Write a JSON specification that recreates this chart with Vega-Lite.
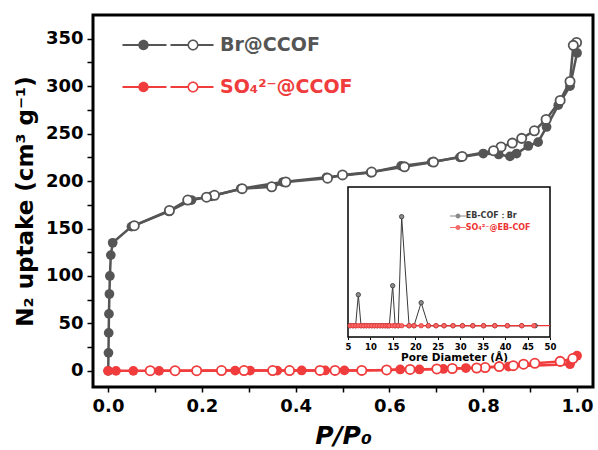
{
  "$schema": "https://vega.github.io/schema/vega-lite/v6.json",
  "width": 500,
  "height": 372,
  "autosize": "none",
  "padding": {"left": 93, "top": 15, "right": 5, "bottom": 63},
  "background": "white",
  "config": {
    "font": "DejaVu Sans",
    "view": {"stroke": "black", "strokeWidth": 3},
    "axis": {"grid": false, "domain": false, "tickColor": "black", "labelColor": "black", "titleColor": "black", "labelFont": "DejaVu Sans", "labelFontWeight": "bold", "titleFont": "DejaVu Sans", "titleFontWeight": "bold"}
  },
  "datasets": {
    "iso": [
      {"s": "Br@CCOF", "b": "ads", "p": 0.0005, "v": 0},
      {"s": "Br@CCOF", "b": "ads", "p": 0.001, "v": 19},
      {"s": "Br@CCOF", "b": "ads", "p": 0.0015, "v": 40},
      {"s": "Br@CCOF", "b": "ads", "p": 0.002, "v": 60},
      {"s": "Br@CCOF", "b": "ads", "p": 0.003, "v": 81},
      {"s": "Br@CCOF", "b": "ads", "p": 0.004, "v": 100},
      {"s": "Br@CCOF", "b": "ads", "p": 0.006, "v": 122},
      {"s": "Br@CCOF", "b": "ads", "p": 0.010, "v": 135},
      {"s": "Br@CCOF", "b": "ads", "p": 0.05, "v": 152},
      {"s": "Br@CCOF", "b": "ads", "p": 0.13, "v": 168},
      {"s": "Br@CCOF", "b": "ads", "p": 0.178, "v": 180},
      {"s": "Br@CCOF", "b": "ads", "p": 0.22, "v": 184},
      {"s": "Br@CCOF", "b": "ads", "p": 0.283, "v": 192},
      {"s": "Br@CCOF", "b": "ads", "p": 0.373, "v": 199},
      {"s": "Br@CCOF", "b": "ads", "p": 0.466, "v": 204},
      {"s": "Br@CCOF", "b": "ads", "p": 0.56, "v": 209},
      {"s": "Br@CCOF", "b": "ads", "p": 0.625, "v": 216},
      {"s": "Br@CCOF", "b": "ads", "p": 0.69, "v": 220},
      {"s": "Br@CCOF", "b": "ads", "p": 0.75, "v": 225},
      {"s": "Br@CCOF", "b": "ads", "p": 0.80, "v": 229},
      {"s": "Br@CCOF", "b": "ads", "p": 0.833, "v": 228},
      {"s": "Br@CCOF", "b": "ads", "p": 0.857, "v": 226},
      {"s": "Br@CCOF", "b": "ads", "p": 0.871, "v": 229},
      {"s": "Br@CCOF", "b": "ads", "p": 0.896, "v": 237},
      {"s": "Br@CCOF", "b": "ads", "p": 0.917, "v": 241},
      {"s": "Br@CCOF", "b": "ads", "p": 0.935, "v": 257},
      {"s": "Br@CCOF", "b": "ads", "p": 0.96, "v": 280},
      {"s": "Br@CCOF", "b": "ads", "p": 0.985, "v": 300},
      {"s": "Br@CCOF", "b": "ads", "p": 1.0, "v": 335},
      {"s": "Br@CCOF", "b": "des", "p": 0.999, "v": 346},
      {"s": "Br@CCOF", "b": "des", "p": 0.992, "v": 343},
      {"s": "Br@CCOF", "b": "des", "p": 0.985, "v": 305},
      {"s": "Br@CCOF", "b": "des", "p": 0.964, "v": 285},
      {"s": "Br@CCOF", "b": "des", "p": 0.934, "v": 265},
      {"s": "Br@CCOF", "b": "des", "p": 0.909, "v": 253},
      {"s": "Br@CCOF", "b": "des", "p": 0.882, "v": 245},
      {"s": "Br@CCOF", "b": "des", "p": 0.862, "v": 240},
      {"s": "Br@CCOF", "b": "des", "p": 0.838, "v": 236},
      {"s": "Br@CCOF", "b": "des", "p": 0.822, "v": 232},
      {"s": "Br@CCOF", "b": "des", "p": 0.755, "v": 226},
      {"s": "Br@CCOF", "b": "des", "p": 0.694, "v": 220},
      {"s": "Br@CCOF", "b": "des", "p": 0.632, "v": 215},
      {"s": "Br@CCOF", "b": "des", "p": 0.562, "v": 209.5},
      {"s": "Br@CCOF", "b": "des", "p": 0.50, "v": 206.5},
      {"s": "Br@CCOF", "b": "des", "p": 0.468, "v": 203},
      {"s": "Br@CCOF", "b": "des", "p": 0.379, "v": 199},
      {"s": "Br@CCOF", "b": "des", "p": 0.349, "v": 194},
      {"s": "Br@CCOF", "b": "des", "p": 0.286, "v": 192},
      {"s": "Br@CCOF", "b": "des", "p": 0.227, "v": 185},
      {"s": "Br@CCOF", "b": "des", "p": 0.21, "v": 183},
      {"s": "Br@CCOF", "b": "des", "p": 0.17, "v": 180},
      {"s": "Br@CCOF", "b": "des", "p": 0.131, "v": 169},
      {"s": "Br@CCOF", "b": "des", "p": 0.056, "v": 153},
      {"s": "SO₄²⁻@CCOF", "b": "ads", "p": 0.0, "v": 0},
      {"s": "SO₄²⁻@CCOF", "b": "ads", "p": 0.017, "v": 0},
      {"s": "SO₄²⁻@CCOF", "b": "ads", "p": 0.054, "v": 0},
      {"s": "SO₄²⁻@CCOF", "b": "ads", "p": 0.109, "v": 0},
      {"s": "SO₄²⁻@CCOF", "b": "ads", "p": 0.271, "v": 0.3},
      {"s": "SO₄²⁻@CCOF", "b": "ads", "p": 0.303, "v": 0.3},
      {"s": "SO₄²⁻@CCOF", "b": "ads", "p": 0.361, "v": 0.3},
      {"s": "SO₄²⁻@CCOF", "b": "ads", "p": 0.413, "v": 0.4},
      {"s": "SO₄²⁻@CCOF", "b": "ads", "p": 0.463, "v": 0.4},
      {"s": "SO₄²⁻@CCOF", "b": "ads", "p": 0.504, "v": 0.5},
      {"s": "SO₄²⁻@CCOF", "b": "ads", "p": 0.594, "v": 1},
      {"s": "SO₄²⁻@CCOF", "b": "ads", "p": 0.623, "v": 1.5},
      {"s": "SO₄²⁻@CCOF", "b": "ads", "p": 0.664, "v": 1.5},
      {"s": "SO₄²⁻@CCOF", "b": "ads", "p": 0.715, "v": 2},
      {"s": "SO₄²⁻@CCOF", "b": "ads", "p": 0.763, "v": 3},
      {"s": "SO₄²⁻@CCOF", "b": "ads", "p": 0.854, "v": 4.5},
      {"s": "SO₄²⁻@CCOF", "b": "ads", "p": 0.985, "v": 7},
      {"s": "SO₄²⁻@CCOF", "b": "ads", "p": 1.0, "v": 16},
      {"s": "SO₄²⁻@CCOF", "b": "des", "p": 0.991, "v": 13},
      {"s": "SO₄²⁻@CCOF", "b": "des", "p": 0.964, "v": 10},
      {"s": "SO₄²⁻@CCOF", "b": "des", "p": 0.91, "v": 8},
      {"s": "SO₄²⁻@CCOF", "b": "des", "p": 0.886, "v": 7},
      {"s": "SO₄²⁻@CCOF", "b": "des", "p": 0.864, "v": 5.5},
      {"s": "SO₄²⁻@CCOF", "b": "des", "p": 0.834, "v": 4.5},
      {"s": "SO₄²⁻@CCOF", "b": "des", "p": 0.804, "v": 3.5},
      {"s": "SO₄²⁻@CCOF", "b": "des", "p": 0.786, "v": 3},
      {"s": "SO₄²⁻@CCOF", "b": "des", "p": 0.734, "v": 2.5},
      {"s": "SO₄²⁻@CCOF", "b": "des", "p": 0.701, "v": 2},
      {"s": "SO₄²⁻@CCOF", "b": "des", "p": 0.644, "v": 1.5},
      {"s": "SO₄²⁻@CCOF", "b": "des", "p": 0.594, "v": 1},
      {"s": "SO₄²⁻@CCOF", "b": "des", "p": 0.541, "v": 0.5},
      {"s": "SO₄²⁻@CCOF", "b": "des", "p": 0.484, "v": 0.5},
      {"s": "SO₄²⁻@CCOF", "b": "des", "p": 0.452, "v": 0.5},
      {"s": "SO₄²⁻@CCOF", "b": "des", "p": 0.387, "v": 0.3},
      {"s": "SO₄²⁻@CCOF", "b": "des", "p": 0.351, "v": 0.3},
      {"s": "SO₄²⁻@CCOF", "b": "des", "p": 0.29, "v": 0.3},
      {"s": "SO₄²⁻@CCOF", "b": "des", "p": 0.242, "v": 0.3},
      {"s": "SO₄²⁻@CCOF", "b": "des", "p": 0.189, "v": 0.2},
      {"s": "SO₄²⁻@CCOF", "b": "des", "p": 0.143, "v": 0.2},
      {"s": "SO₄²⁻@CCOF", "b": "des", "p": 0.09, "v": 0.2}
    ],
    "psd": [
      {"s": "EB-COF：Br", "d": 5.5, "f": 0}, {"s": "EB-COF：Br", "d": 6.1, "f": 0}, {"s": "EB-COF：Br", "d": 6.7, "f": 0},
      {"s": "EB-COF：Br", "d": 7.3, "f": 0.31}, {"s": "EB-COF：Br", "d": 7.9, "f": 0}, {"s": "EB-COF：Br", "d": 8.5, "f": 0},
      {"s": "EB-COF：Br", "d": 9.1, "f": 0}, {"s": "EB-COF：Br", "d": 9.7, "f": 0}, {"s": "EB-COF：Br", "d": 10.3, "f": 0},
      {"s": "EB-COF：Br", "d": 10.9, "f": 0}, {"s": "EB-COF：Br", "d": 11.5, "f": 0}, {"s": "EB-COF：Br", "d": 12.1, "f": 0},
      {"s": "EB-COF：Br", "d": 12.7, "f": 0}, {"s": "EB-COF：Br", "d": 13.3, "f": 0}, {"s": "EB-COF：Br", "d": 13.8, "f": 0},
      {"s": "EB-COF：Br", "d": 14.2, "f": 0}, {"s": "EB-COF：Br", "d": 14.95, "f": 0.40}, {"s": "EB-COF：Br", "d": 15.5, "f": 0},
      {"s": "EB-COF：Br", "d": 16.2, "f": 0}, {"s": "EB-COF：Br", "d": 16.95, "f": 1.09}, {"s": "EB-COF：Br", "d": 18.6, "f": 0},
      {"s": "EB-COF：Br", "d": 19.7, "f": 0}, {"s": "EB-COF：Br", "d": 21.3, "f": 0.23}, {"s": "EB-COF：Br", "d": 22.9, "f": 0},
      {"s": "EB-COF：Br", "d": 24.6, "f": 0}, {"s": "EB-COF：Br", "d": 26.4, "f": 0}, {"s": "EB-COF：Br", "d": 28.4, "f": 0},
      {"s": "EB-COF：Br", "d": 30.5, "f": 0}, {"s": "EB-COF：Br", "d": 32.8, "f": 0}, {"s": "EB-COF：Br", "d": 35.2, "f": 0},
      {"s": "EB-COF：Br", "d": 37.7, "f": 0}, {"s": "EB-COF：Br", "d": 40.5, "f": 0}, {"s": "EB-COF：Br", "d": 43.7, "f": 0},
      {"s": "EB-COF：Br", "d": 46.7, "f": 0},
      {"s": "SO₄²⁻@EB-COF", "d": 5.5, "f": 0}, {"s": "SO₄²⁻@EB-COF", "d": 6.1, "f": 0}, {"s": "SO₄²⁻@EB-COF", "d": 6.7, "f": 0},
      {"s": "SO₄²⁻@EB-COF", "d": 7.3, "f": 0}, {"s": "SO₄²⁻@EB-COF", "d": 7.9, "f": 0}, {"s": "SO₄²⁻@EB-COF", "d": 8.5, "f": 0},
      {"s": "SO₄²⁻@EB-COF", "d": 9.1, "f": 0}, {"s": "SO₄²⁻@EB-COF", "d": 9.7, "f": 0}, {"s": "SO₄²⁻@EB-COF", "d": 10.3, "f": 0},
      {"s": "SO₄²⁻@EB-COF", "d": 10.9, "f": 0}, {"s": "SO₄²⁻@EB-COF", "d": 11.5, "f": 0}, {"s": "SO₄²⁻@EB-COF", "d": 12.1, "f": 0},
      {"s": "SO₄²⁻@EB-COF", "d": 12.7, "f": 0}, {"s": "SO₄²⁻@EB-COF", "d": 13.3, "f": 0}, {"s": "SO₄²⁻@EB-COF", "d": 13.8, "f": 0},
      {"s": "SO₄²⁻@EB-COF", "d": 14.2, "f": 0}, {"s": "SO₄²⁻@EB-COF", "d": 14.95, "f": 0}, {"s": "SO₄²⁻@EB-COF", "d": 15.5, "f": 0},
      {"s": "SO₄²⁻@EB-COF", "d": 16.2, "f": 0}, {"s": "SO₄²⁻@EB-COF", "d": 16.95, "f": 0}, {"s": "SO₄²⁻@EB-COF", "d": 18.6, "f": 0},
      {"s": "SO₄²⁻@EB-COF", "d": 19.7, "f": 0}, {"s": "SO₄²⁻@EB-COF", "d": 21.3, "f": 0}, {"s": "SO₄²⁻@EB-COF", "d": 22.9, "f": 0},
      {"s": "SO₄²⁻@EB-COF", "d": 24.6, "f": 0}, {"s": "SO₄²⁻@EB-COF", "d": 26.4, "f": 0}, {"s": "SO₄²⁻@EB-COF", "d": 28.4, "f": 0},
      {"s": "SO₄²⁻@EB-COF", "d": 30.5, "f": 0}, {"s": "SO₄²⁻@EB-COF", "d": 32.8, "f": 0}, {"s": "SO₄²⁻@EB-COF", "d": 35.2, "f": 0},
      {"s": "SO₄²⁻@EB-COF", "d": 37.7, "f": 0}, {"s": "SO₄²⁻@EB-COF", "d": 40.5, "f": 0}, {"s": "SO₄²⁻@EB-COF", "d": 43.7, "f": 0},
      {"s": "SO₄²⁻@EB-COF", "d": 46.4, "f": 0}
    ]
  },
  "layer": [
    {
      "data": {"name": "iso"},
      "encoding": {
        "x": {"field": "p", "type": "quantitative",
          "scale": {"domain": [-0.032, 1.034], "nice": false, "zero": false},
          "axis": {"orient": "bottom", "values": [0, 0.1, 0.2, 0.3, 0.4, 0.5, 0.6, 0.7, 0.8, 0.9, 1.0], "format": ".1f",
            "labelExpr": "round(datum.value * 10) % 2 == 0 ? datum.label : ''",
            "title": "P/P₀", "titleFontStyle": "italic", "titleFontSize": 25, "labelFontSize": 18,
            "tickSize": 5, "tickWidth": 1.5, "labelPadding": 5, "titlePadding": 8, "labelFlush": false, "labelOverlap": false}},
        "y": {"field": "v", "type": "quantitative",
          "scale": {"domain": [-17, 375], "nice": false, "zero": false},
          "axis": {"values": [0, 25, 50, 75, 100, 125, 150, 175, 200, 225, 250, 275, 300, 325, 350],
            "labelExpr": "datum.value % 50 == 0 ? datum.label : ''",
            "title": "N₂ uptake (cm³ g⁻¹)", "titleFontSize": 23, "labelFontSize": 18,
            "tickSize": 6, "tickWidth": 1.5, "labelPadding": 4, "titlePadding": 8, "labelOverlap": false,
            "encode": {"ticks": {"update": {"x2": {"signal": "datum.value % 50 === 0 ? -6 : -3.5"}}}}}}
      },
      "layer": [
        {
          "transform": [{"filter": "datum.s == 'Br@CCOF'"}],
          "mark": {"type": "line", "strokeWidth": 2.5},
          "encoding": {
            "color": {"field": "s", "type": "nominal",
              "scale": {"domain": ["Br@CCOF", "SO₄²⁻@CCOF"], "range": ["#555555", "#f03c3c"]},
              "legend": {"orient": "none", "legendX": 65.5, "legendY": 20.5, "title": null, "padding": 0,
                "symbolType": "M-45.5 -1.1 H-1.5 V1.1 H-45.5 Z M-29.7 0 A5.2 5.2 0 1 1 -19.3 0 A5.2 5.2 0 1 1 -29.7 0 Z M2.5 -1.1 H19.8 V1.1 H2.5 Z M30.2 -1.1 H45.5 V1.1 H30.2 Z M19.5 0 A5.5 5.5 0 1 1 30.5 0 A5.5 5.5 0 1 1 19.5 0 Z M21 0 A4 4 0 1 0 29 0 A4 4 0 1 0 21 0 Z",
                "symbolSize": 4, "symbolStrokeWidth": 0, "symbolOpacity": 1,
                "labelFont": "DejaVu Sans", "labelFontWeight": "bold", "labelFontSize": 19, "labelOffset": 42.5,
                "rowPadding": 22, "labelLimit": 300,
                "encode": {
                  "symbols": {"update": {"fill": {"scale": "color", "field": "value"}, "stroke": {"value": "transparent"}, "opacity": {"value": 1}}},
                  "labels": {"update": {"fill": {"scale": "color", "field": "value"}}}
                }}},
            "detail": {"field": "b"}
          }
        },
        {
          "transform": [{"filter": "datum.s == 'Br@CCOF' && datum.b == 'ads'"}],
          "mark": {"type": "point", "shape": "circle", "filled": true, "size": 95, "opacity": 1, "strokeWidth": 0},
          "encoding": {"color": {"field": "s", "type": "nominal"}}
        },
        {
          "transform": [{"filter": "datum.s == 'Br@CCOF' && datum.b == 'des'"}],
          "mark": {"type": "point", "shape": "circle", "filled": false, "fill": "white", "size": 85, "opacity": 1, "strokeWidth": 1.8},
          "encoding": {"color": {"field": "s", "type": "nominal"}}
        },
        {
          "transform": [{"filter": "datum.s != 'Br@CCOF'"}],
          "mark": {"type": "line", "strokeWidth": 2.5},
          "encoding": {"color": {"field": "s", "type": "nominal"}, "detail": {"field": "b"}}
        },
        {
          "transform": [{"filter": "datum.s != 'Br@CCOF' && datum.b == 'ads'"}],
          "mark": {"type": "point", "shape": "circle", "filled": true, "size": 95, "opacity": 1, "strokeWidth": 0},
          "encoding": {"color": {"field": "s", "type": "nominal"}}
        },
        {
          "transform": [{"filter": "datum.s != 'Br@CCOF' && datum.b == 'des'"}],
          "mark": {"type": "point", "shape": "circle", "filled": false, "fill": "white", "size": 85, "opacity": 1, "strokeWidth": 1.8},
          "encoding": {"color": {"field": "s", "type": "nominal"}}
        }
      ]
    },
    {
      "layer": [
        {
          "data": {"values": [{}]},
          "mark": {"type": "rect", "fill": "white", "stroke": "black", "strokeWidth": 1.5},
          "encoding": {
            "x": {"datum": 5, "type": "quantitative", "scale": {"domain": [-51.807, 59.579], "nice": false, "zero": false},
              "axis": {"orient": "bottom", "offset": -50, "values": [5, 10, 15, 20, 25, 30, 35, 40, 45, 50],
                "title": "Pore Diameter (Å)", "titleX": 361, "labelFontSize": 8.5, "titleFontSize": 10.5, "tickSize": 2.5, "tickWidth": 1,
                "labelPadding": 3, "titlePadding": 1, "labelFlush": false, "labelOverlap": false}},
            "x2": {"datum": 50},
            "y": {"datum": -0.113, "type": "quantitative", "scale": {"domain": [-0.613, 3.107], "nice": false, "zero": false}, "axis": null},
            "y2": {"datum": 1.387}
          }
        },
        {
          "data": {"values": [{}]},
          "mark": {"type": "rule", "color": "#ee3333", "strokeWidth": 1.2},
          "encoding": {
            "x": {"datum": 5, "type": "quantitative", "scale": {"domain": [-51.807, 59.579], "nice": false, "zero": false}},
            "x2": {"datum": 50},
            "y": {"datum": 0, "type": "quantitative", "scale": {"domain": [-0.613, 3.107], "nice": false, "zero": false}}
          }
        },
        {
          "data": {"name": "psd"},
          "transform": [{"filter": "datum.s == 'EB-COF：Br'"}],
          "mark": {"type": "line", "strokeWidth": 1},
          "encoding": {
            "x": {"field": "d", "type": "quantitative", "scale": {"domain": [-51.807, 59.579], "nice": false, "zero": false}},
            "y": {"field": "f", "type": "quantitative", "scale": {"domain": [-0.613, 3.107], "nice": false, "zero": false}},
            "stroke": {"field": "s", "type": "nominal",
              "scale": {"domain": ["EB-COF：Br", "SO₄²⁻@EB-COF"], "range": ["#3a3a3a", "#ee3333"]},
              "legend": {"orient": "none", "legendX": 361, "legendY": 197, "title": null, "padding": 0,
                "symbolType": "M-8 -0.6 H8 V0.6 H-8 Z M-2.5 0 A2.5 2.5 0 1 1 2.5 0 A2.5 2.5 0 1 1 -2.5 0 Z",
                "symbolSize": 4, "symbolStrokeWidth": 0, "symbolOpacity": 1,
                "labelFont": "DejaVu Sans", "labelFontWeight": "bold", "labelFontSize": 8, "labelOffset": 3.7, "rowPadding": 3.5, "labelLimit": 200,
                "encode": {
                  "symbols": {"update": {"fill": {"scale": "stroke", "field": "value"}, "stroke": {"value": "transparent"}, "opacity": {"value": 1}}},
                  "labels": {"update": {"fill": {"scale": "stroke", "field": "value"}}}
                }}}
          }
        },
        {
          "data": {"name": "psd"},
          "transform": [{"filter": "datum.s != 'EB-COF：Br'"}],
          "mark": {"type": "line", "strokeWidth": 1.2},
          "encoding": {
            "x": {"field": "d", "type": "quantitative", "scale": {"domain": [-51.807, 59.579], "nice": false, "zero": false}},
            "y": {"field": "f", "type": "quantitative", "scale": {"domain": [-0.613, 3.107], "nice": false, "zero": false}},
            "stroke": {"field": "s", "type": "nominal"}
          }
        },
        {
          "data": {"name": "psd"},
          "transform": [{"filter": "datum.s == 'EB-COF：Br'"}],
          "mark": {"type": "point", "shape": "circle", "filled": true, "size": 20, "opacity": 1, "strokeWidth": 0.8},
          "encoding": {
            "x": {"field": "d", "type": "quantitative", "scale": {"domain": [-51.807, 59.579], "nice": false, "zero": false}},
            "y": {"field": "f", "type": "quantitative", "scale": {"domain": [-0.613, 3.107], "nice": false, "zero": false}},
            "fill": {"field": "s", "type": "nominal", "scale": {"domain": ["EB-COF：Br", "SO₄²⁻@EB-COF"], "range": ["#8a8a8a", "#f56a6a"]}, "legend": null},
            "stroke": {"field": "s", "type": "nominal"}
          }
        },
        {
          "data": {"name": "psd"},
          "transform": [{"filter": "datum.s != 'EB-COF：Br'"}],
          "mark": {"type": "point", "shape": "circle", "filled": true, "size": 20, "opacity": 1, "strokeWidth": 0.8},
          "encoding": {
            "x": {"field": "d", "type": "quantitative", "scale": {"domain": [-51.807, 59.579], "nice": false, "zero": false}},
            "y": {"field": "f", "type": "quantitative", "scale": {"domain": [-0.613, 3.107], "nice": false, "zero": false}},
            "fill": {"field": "s", "type": "nominal", "legend": null},
            "stroke": {"field": "s", "type": "nominal"}
          }
        }
      ]
    }
  ],
  "resolve": {"scale": {"x": "independent", "y": "independent"}}
}
